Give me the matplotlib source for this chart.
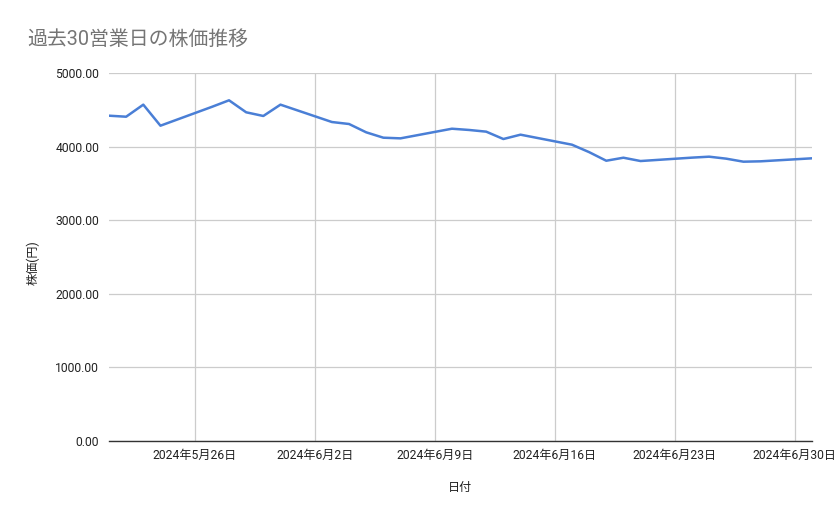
import matplotlib
matplotlib.use("Agg")
import matplotlib.pyplot as plt
import matplotlib.dates as mdates
import numpy as np
import datetime as dt

plt.rcParams['font.family'] = ['Roboto', 'Noto Sans CJK JP', 'DejaVu Sans']

dates = ["2024-05-21", "2024-05-22", "2024-05-23", "2024-05-24",
         "2024-05-27", "2024-05-28", "2024-05-29", "2024-05-30", "2024-05-31",
         "2024-06-03", "2024-06-04", "2024-06-05", "2024-06-06", "2024-06-07",
         "2024-06-10", "2024-06-11", "2024-06-12", "2024-06-13", "2024-06-14",
         "2024-06-17", "2024-06-18", "2024-06-19", "2024-06-20", "2024-06-21",
         "2024-06-24", "2024-06-25", "2024-06-26", "2024-06-27", "2024-06-28",
         "2024-07-01"]
prices = [4420, 4406, 4570, 4284,
          4540, 4629, 4466, 4416, 4570,
          4334, 4307, 4194, 4121, 4112,
          4243, 4226, 4203, 4103, 4162,
          4026, 3925, 3808, 3849, 3804,
          3850, 3863, 3836, 3795, 3800,
          3841]
tick_dates = ["2024-05-26", "2024-06-02", "2024-06-09", "2024-06-16", "2024-06-23", "2024-06-30"]
tick_labels = ["2024年5月26日", "2024年6月2日", "2024年6月9日", "2024年6月16日", "2024年6月23日", "2024年6月30日"]
y_ticks = [0, 1000, 2000, 3000, 4000, 5000]

x = [dt.datetime.strptime(d, "%Y-%m-%d") for d in dates]
xt = [dt.datetime.strptime(d, "%Y-%m-%d") for d in tick_dates]

fig = plt.figure(figsize=(8.39, 5.19), dpi=100)
ax = fig.add_axes([109/839, 1-441/519, (812-109)/839, (441-73)/519])

ax.plot(x, prices, color="#4a7fd6", linewidth=1.8, solid_joinstyle="round", zorder=3)

ax.set_xlim(x[0], x[-1])
ax.set_ylim(0, 5000)
ax.set_yticks(y_ticks)
ax.set_yticklabels([f"{v:.2f}" for v in y_ticks])
ax.set_xticks(xt)
ax.set_xticklabels(tick_labels)

ax.grid(True, color="#cccccc", linewidth=0.9)
ax.set_axisbelow(True)
for s in ["top", "right", "left"]:
    ax.spines[s].set_visible(False)
ax.spines["bottom"].set_color("#333333")
ax.spines["bottom"].set_linewidth(1.0)
ax.spines["bottom"].set_zorder(4)
ax.tick_params(axis="both", length=0, labelsize=8.7, colors="#222222")
ax.tick_params(axis="y", pad=7)
ax.tick_params(axis="x", pad=6)

fig.text(27/839, 1-39/519, "過去30営業日の株価推移", fontsize=14.3, color="#757575",
         ha="left", va="center")
fig.text(460/839, 1-487/519, "日付", fontsize=8.7, color="#222222", ha="center", va="center")
fig.text(33/839, 1-263/519, "株価(円)", fontsize=8.7, color="#222222", ha="center", va="center",
         rotation=90)

fig.savefig("out.png", dpi=100)
